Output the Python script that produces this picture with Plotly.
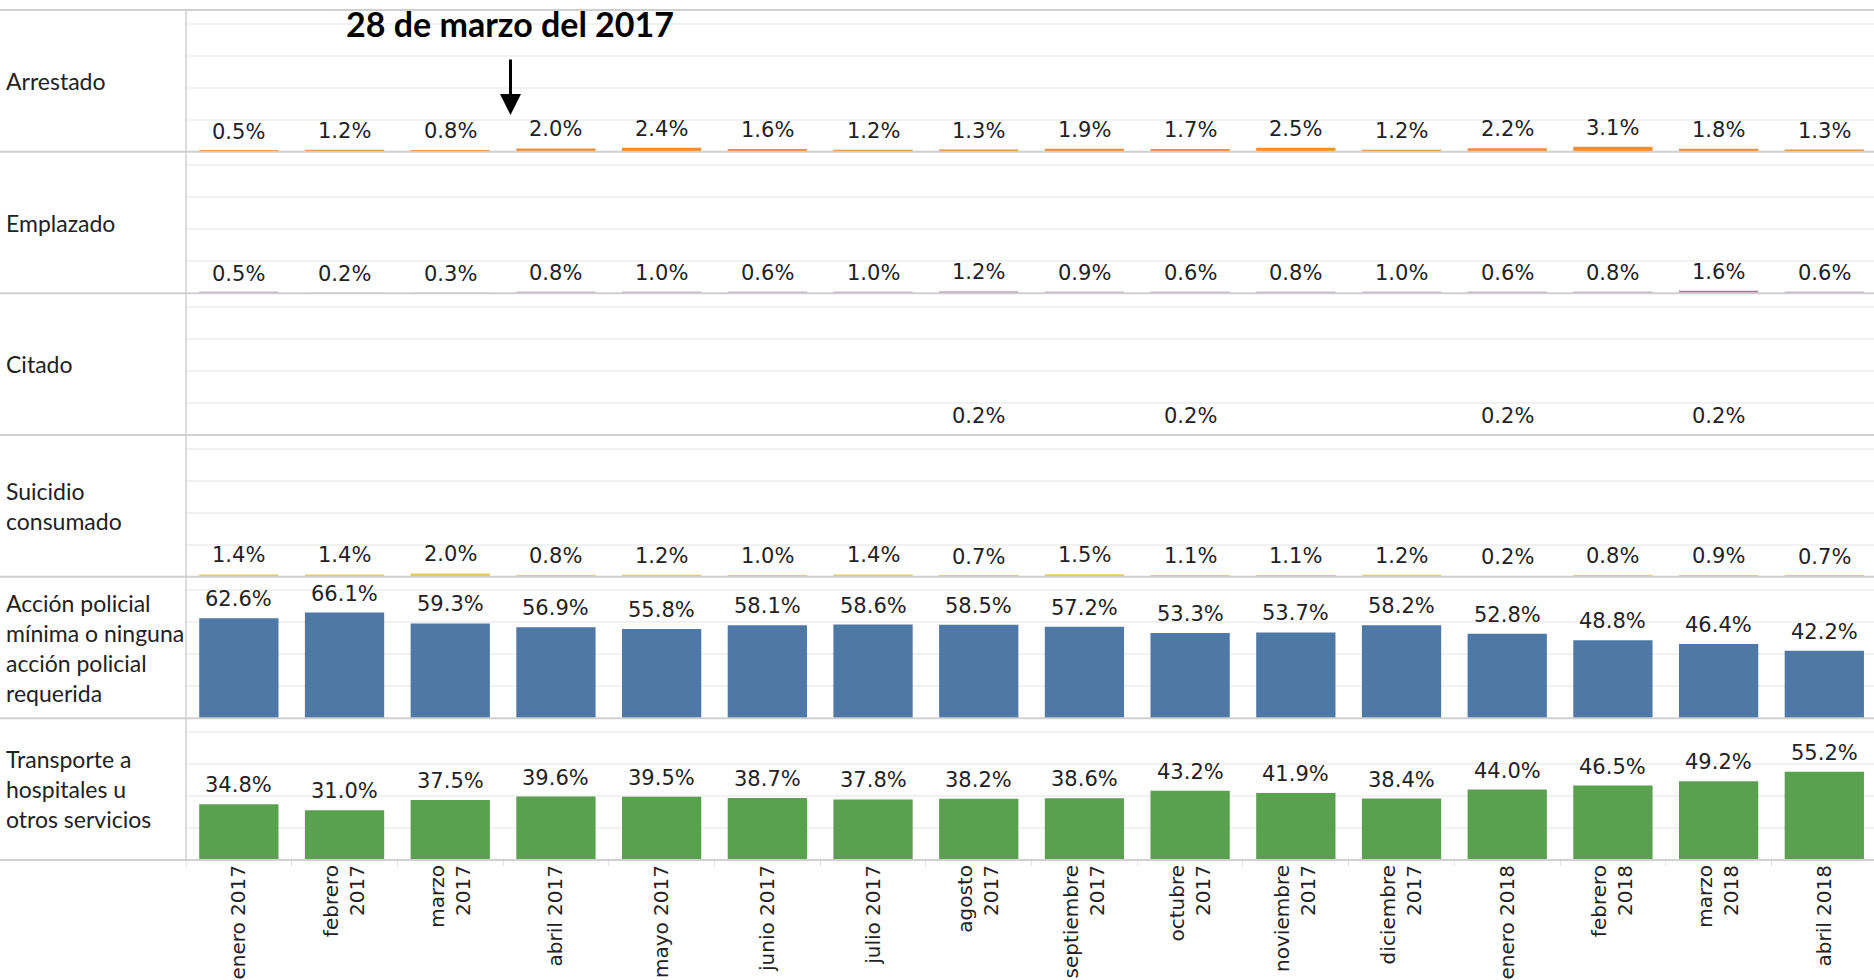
from plotly.subplots import make_subplots
import plotly.graph_objects as go

months = [
    "enero 2017", "febrero<br>2017", "marzo<br>2017", "abril 2017", "mayo 2017",
    "junio 2017", "julio 2017", "agosto<br>2017", "septiembre<br>2017",
    "octubre<br>2017", "noviembre<br>2017", "diciembre<br>2017", "enero 2018",
    "febrero<br>2018", "marzo<br>2018", "abril 2018",
]

arrestado = [0.5, 1.2, 0.8, 2.0, 2.4, 1.6, 1.2, 1.3, 1.9, 1.7, 2.5, 1.2, 2.2, 3.1, 1.8, 1.3]
emplazado = [0.5, 0.2, 0.3, 0.8, 1.0, 0.6, 1.0, 1.2, 0.9, 0.6, 0.8, 1.0, 0.6, 0.8, 1.6, 0.6]
citado = [None, None, None, None, None, None, None, 0.2, None, 0.2, None, None, 0.2, None, 0.2, None]
suicidio = [1.4, 1.4, 2.0, 0.8, 1.2, 1.0, 1.4, 0.7, 1.5, 1.1, 1.1, 1.2, 0.2, 0.8, 0.9, 0.7]
accion = [62.6, 66.1, 59.3, 56.9, 55.8, 58.1, 58.6, 58.5, 57.2, 53.3, 53.7, 58.2, 52.8, 48.8, 46.4, 42.2]
transporte = [34.8, 31.0, 37.5, 39.6, 39.5, 38.7, 37.8, 38.2, 38.6, 43.2, 41.9, 38.4, 44.0, 46.5, 49.2, 55.2]

rows = [
    ("Arrestado", arrestado, "#F28E2B"),
    ("Emplazado", emplazado, "#B07AA1"),
    ("Citado", citado, "#E15759"),
    ("Suicidio<br>consumado", suicidio, "#EDC948"),
    ("Acción policial<br>mínima o ninguna<br>acción policial<br>requerida", accion, "#4E79A7"),
    ("Transporte a<br>hospitales u<br>otros servicios", transporte, "#59A14F"),
]

W, H = 1874, 980
ML, MT, MB = 186, 10, 120
plot_w = W - ML
n = len(rows)

fig = make_subplots(rows=n, cols=1, shared_xaxes=True, vertical_spacing=0)

for i, (label, vals, color) in enumerate(rows):
    fig.add_trace(go.Bar(
        x=months, y=vals, marker_color=color, marker_line_width=0,
        showlegend=False, hoverinfo="skip",
    ), row=i + 1, col=1)
    fig.update_yaxes(range=[0, 88.5], tickvals=[20, 40, 60, 80], showticklabels=False,
                     showgrid=True, gridcolor="#f1f1f1", gridwidth=1.5,
                     zeroline=False, fixedrange=True, row=i + 1, col=1)

    # value labels above each bar
    suffix = "" if i == 0 else str(i + 1)
    for m, v in zip(months, vals):
        if v is None:
            continue
        fig.add_annotation(text=f"{v:.1f}%", x=m, y=v, xref="x" + suffix, yref="y" + suffix,
                           yanchor="bottom", yshift=5, showarrow=False,
                           font=dict(family="DejaVu Sans", size=21, color="#222222"))

    yc = 1 - (i + 0.5) / n
    fig.add_annotation(text=label, xref="paper", yref="paper", x=0, y=yc,
                       xanchor="left", yanchor="middle", xshift=-182, align="left",
                       showarrow=False,
                       font=dict(family="Lato", size=23, color="#222222"))

# panel separators
for k in range(n + 1):
    fig.add_shape(type="line", xref="paper", yref="paper",
                  x0=-ML / plot_w, x1=1, y0=k / n, y1=k / n,
                  line=dict(color="#d0d0d0", width=2), layer="above")
fig.add_shape(type="line", xref="paper", yref="paper", x0=0, x1=0, y0=0, y1=1,
              line=dict(color="#d0d0d0", width=1.5), layer="above")

fig.update_xaxes(showgrid=False, zeroline=False, showline=False, range=[-0.5, 15.47])
fig.update_xaxes(tickangle=-90, ticks="outside", tickson="boundaries", ticklen=5,
                 tickcolor="#e2e2e2", tickfont=dict(family="DejaVu Sans", size=20, color="#222222"),
                 row=n, col=1)

# marker for the date of interest
fig.add_annotation(text="<b>28 de marzo del 2017</b>", xref="x", yref="paper",
                   x=2.57, y=1, yanchor="top", yshift=9, showarrow=False,
                   font=dict(family="Lato", size=34, color="#000000"))
fig.add_annotation(text="", xref="x", yref="paper", x=2.57,
                   y=1 - (115 - MT) / (H - MT - MB), ax=0, ay=-57,
                   showarrow=True, arrowhead=2, arrowsize=1.4, arrowwidth=3,
                   arrowcolor="#000000")

fig.update_layout(
    width=W, height=H, bargap=0.25,
    margin=dict(l=ML, r=0, t=MT, b=MB),
    plot_bgcolor="white", paper_bgcolor="white",
)

fig.write_html("out.html", config={"displayModeBar": False},
               post_script="document.body.style.margin='0';")
